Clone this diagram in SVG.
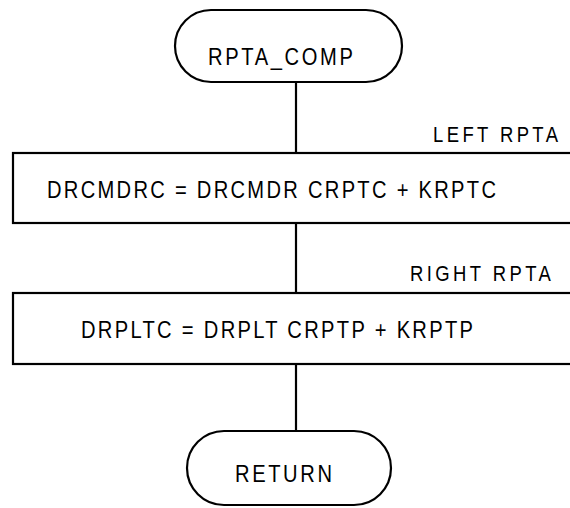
<svg xmlns="http://www.w3.org/2000/svg" width="570" height="508" viewBox="0 0 570 508">
  <style>
    .shape { fill: #fff; stroke: #000; stroke-width: 2.2; }
    .conn { stroke: #000; stroke-width: 2.2; fill: none; }
    .t { font-family: "Liberation Sans", Arial, sans-serif; font-size: 24px; fill: #000; }
    .lbl { font-family: "Liberation Sans", Arial, sans-serif; font-size: 22px; fill: #000; }
  </style>
  <rect width="570" height="508" fill="#fff"/>
  <g id="connectors">
    <line class="conn" x1="296" y1="82" x2="296" y2="153"/>
    <line class="conn" x1="296" y1="223" x2="296" y2="293"/>
    <line class="conn" x1="296" y1="364" x2="296" y2="431"/>
  </g>
  <g id="start">
    <rect class="shape" x="175" y="10" width="227" height="72" rx="36" ry="36"/>
    <text class="t" transform="translate(208,65) scale(0.84,1)" x="0" y="0" textLength="172.6" lengthAdjust="spacing">RPTA_COMP</text>
  </g>
  <g id="left-rpta">
    <text class="lbl" transform="translate(433,142) scale(0.84,1)" x="0" y="0" textLength="148.8" lengthAdjust="spacing">LEFT RPTA</text>
    <rect class="shape" x="13" y="153" width="570" height="70"/>
    <text class="t" transform="translate(47,198) scale(0.84,1)" x="0" y="0" textLength="534.5" lengthAdjust="spacing">DRCMDRC = DRCMDR CRPTC + KRPTC</text>
  </g>
  <g id="right-rpta">
    <text class="lbl" transform="translate(410,281) scale(0.84,1)" x="0" y="0" textLength="167.8" lengthAdjust="spacing">RIGHT RPTA</text>
    <rect class="shape" x="13" y="293" width="570" height="71"/>
    <text class="t" transform="translate(81,338) scale(0.84,1)" x="0" y="0" textLength="466.7" lengthAdjust="spacing">DRPLTC = DRPLT CRPTP + KRPTP</text>
  </g>
  <g id="return">
    <rect class="shape" x="187" y="431" width="204" height="74" rx="37" ry="37"/>
    <text class="t" transform="translate(235,482) scale(0.84,1)" x="0" y="0" textLength="115.5" lengthAdjust="spacing">RETURN</text>
  </g>
</svg>
